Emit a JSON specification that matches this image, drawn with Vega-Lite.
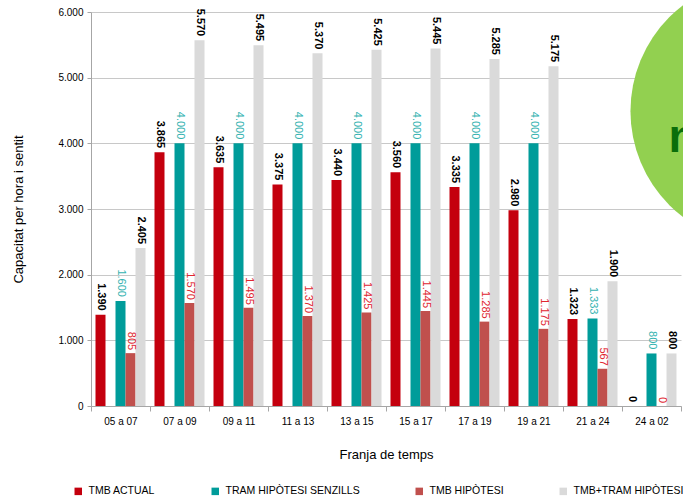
{
  "$schema": "https://vega.github.io/schema/vega-lite/v6.json",
  "autosize": {"type": "none"},
  "width": 590,
  "height": 394,
  "padding": {"left": 91, "top": 12, "right": 2, "bottom": 92},
  "config": {
    "locale": {"number": {"decimal": ",", "thousands": ".", "grouping": [3], "currency": ["", " €"]}},
    "view": {"stroke": null},
    "font": "Liberation Sans"
  },
  "datasets": {
    "bars": [
      {"t": "05 a 07", "s": "TMB ACTUAL", "v": 1390},
      {"t": "05 a 07", "s": "TRAM HIPÒTESI SENZILLS", "v": 1600},
      {"t": "05 a 07", "s": "TMB HIPÒTESI", "v": 805},
      {"t": "05 a 07", "s": "TMB+TRAM HIPÒTESI", "v": 2405},
      {"t": "07 a 09", "s": "TMB ACTUAL", "v": 3865},
      {"t": "07 a 09", "s": "TRAM HIPÒTESI SENZILLS", "v": 4000},
      {"t": "07 a 09", "s": "TMB HIPÒTESI", "v": 1570},
      {"t": "07 a 09", "s": "TMB+TRAM HIPÒTESI", "v": 5570},
      {"t": "09 a 11", "s": "TMB ACTUAL", "v": 3635},
      {"t": "09 a 11", "s": "TRAM HIPÒTESI SENZILLS", "v": 4000},
      {"t": "09 a 11", "s": "TMB HIPÒTESI", "v": 1495},
      {"t": "09 a 11", "s": "TMB+TRAM HIPÒTESI", "v": 5495},
      {"t": "11 a 13", "s": "TMB ACTUAL", "v": 3375},
      {"t": "11 a 13", "s": "TRAM HIPÒTESI SENZILLS", "v": 4000},
      {"t": "11 a 13", "s": "TMB HIPÒTESI", "v": 1370},
      {"t": "11 a 13", "s": "TMB+TRAM HIPÒTESI", "v": 5370},
      {"t": "13 a 15", "s": "TMB ACTUAL", "v": 3440},
      {"t": "13 a 15", "s": "TRAM HIPÒTESI SENZILLS", "v": 4000},
      {"t": "13 a 15", "s": "TMB HIPÒTESI", "v": 1425},
      {"t": "13 a 15", "s": "TMB+TRAM HIPÒTESI", "v": 5425},
      {"t": "15 a 17", "s": "TMB ACTUAL", "v": 3560},
      {"t": "15 a 17", "s": "TRAM HIPÒTESI SENZILLS", "v": 4000},
      {"t": "15 a 17", "s": "TMB HIPÒTESI", "v": 1445},
      {"t": "15 a 17", "s": "TMB+TRAM HIPÒTESI", "v": 5445},
      {"t": "17 a 19", "s": "TMB ACTUAL", "v": 3335},
      {"t": "17 a 19", "s": "TRAM HIPÒTESI SENZILLS", "v": 4000},
      {"t": "17 a 19", "s": "TMB HIPÒTESI", "v": 1285},
      {"t": "17 a 19", "s": "TMB+TRAM HIPÒTESI", "v": 5285},
      {"t": "19 a 21", "s": "TMB ACTUAL", "v": 2980},
      {"t": "19 a 21", "s": "TRAM HIPÒTESI SENZILLS", "v": 4000},
      {"t": "19 a 21", "s": "TMB HIPÒTESI", "v": 1175},
      {"t": "19 a 21", "s": "TMB+TRAM HIPÒTESI", "v": 5175},
      {"t": "21 a 24", "s": "TMB ACTUAL", "v": 1323},
      {"t": "21 a 24", "s": "TRAM HIPÒTESI SENZILLS", "v": 1333},
      {"t": "21 a 24", "s": "TMB HIPÒTESI", "v": 567},
      {"t": "21 a 24", "s": "TMB+TRAM HIPÒTESI", "v": 1900},
      {"t": "24 a 02", "s": "TMB ACTUAL", "v": 0},
      {"t": "24 a 02", "s": "TRAM HIPÒTESI SENZILLS", "v": 800},
      {"t": "24 a 02", "s": "TMB HIPÒTESI", "v": 0},
      {"t": "24 a 02", "s": "TMB+TRAM HIPÒTESI", "v": 800}
    ],
    "badge": [{"t": "24 a 02", "v": 4490, "label": "n", "lv": 3868}]
  },
  "data": {"name": "bars"},
  "layer": [
    {
      "mark": {"type": "bar"},
      "encoding": {
        "x": {
          "field": "t", "type": "nominal", "sort": null,
          "scale": {"paddingInner": 0, "paddingOuter": 0},
          "axis": {
            "title": "Franja de temps", "labelAngle": 0, "tickBand": "extent", "tickSize": 5,
            "tickColor": "#a6a6a6", "domainColor": "#a6a6a6", "labelFontSize": 10, "labelColor": "#000000",
            "labelPadding": 5, "titleFontSize": 13, "titleFontWeight": "normal", "titleColor": "#000000",
            "titlePadding": 22, "grid": false
          }
        },
        "xOffset": {
          "field": "s", "type": "nominal",
          "scale": {"domain": ["TMB ACTUAL", "_gap", "TRAM HIPÒTESI SENZILLS", "TMB HIPÒTESI", "TMB+TRAM HIPÒTESI"], "paddingInner": 0, "paddingOuter": 0.45}
        },
        "y": {
          "field": "v", "type": "quantitative",
          "scale": {"domain": [0, 6000], "nice": false},
          "axis": {
            "title": "Capacitat per hora i sentit", "values": [0, 1000, 2000, 3000, 4000, 5000, 6000],
            "format": ",d", "tickSize": 4, "tickColor": "#a6a6a6", "domainColor": "#a6a6a6",
            "gridColor": "#c8c8c8", "labelFontSize": 10, "labelColor": "#000000", "labelPadding": 4,
            "titleFontSize": 13, "titleFontWeight": "normal", "titleColor": "#000000", "titlePadding": 32
          }
        },
        "color": {
          "field": "s", "type": "nominal",
          "scale": {"domain": ["TMB ACTUAL", "TRAM HIPÒTESI SENZILLS", "TMB HIPÒTESI", "TMB+TRAM HIPÒTESI"],
                    "range": ["#c4000e", "#009c9a", "#c0504d", "#dadada"]},
          "legend": {
            "title": null, "orient": "none", "direction": "horizontal", "columns": 4,
            "legendX": -18, "legendY": 474, "symbolType": "square", "symbolSize": 56,
            "symbolStrokeWidth": 0, "labelFontSize": 10.5, "labelColor": "#000000",
            "columnPadding": 54, "labelOffset": 5
          }
        }
      }
    },
    {
      "transform": [{"filter": "datum.s === 'TMB ACTUAL' || datum.s === 'TMB+TRAM HIPÒTESI'"}],
      "mark": {"type": "text", "angle": 90, "align": "right", "baseline": "middle", "dx": -4, "fontSize": 11, "fontWeight": "bold", "color": "#000000"},
      "encoding": {
        "x": {"field": "t", "type": "nominal", "sort": null},
        "xOffset": {"field": "s", "type": "nominal"},
        "y": {"field": "v", "type": "quantitative"},
        "text": {"field": "v", "type": "quantitative", "format": ",d"}
      }
    },
    {
      "transform": [{"filter": "datum.s === 'TRAM HIPÒTESI SENZILLS'"}],
      "mark": {"type": "text", "angle": 90, "align": "right", "baseline": "middle", "dx": -4, "fontSize": 11, "color": "#35b3b1"},
      "encoding": {
        "x": {"field": "t", "type": "nominal", "sort": null},
        "xOffset": {"field": "s", "type": "nominal"},
        "y": {"field": "v", "type": "quantitative"},
        "text": {"field": "v", "type": "quantitative", "format": ",d"}
      }
    },
    {
      "transform": [{"filter": "datum.s === 'TMB HIPÒTESI'"}],
      "mark": {"type": "text", "angle": 90, "align": "right", "baseline": "middle", "dx": -3, "fontSize": 11, "color": "#e0262f"},
      "encoding": {
        "x": {"field": "t", "type": "nominal", "sort": null},
        "xOffset": {"field": "s", "type": "nominal"},
        "y": {"field": "v", "type": "quantitative"},
        "text": {"field": "v", "type": "quantitative", "format": ",d"}
      }
    },
    {
      "data": {"name": "badge"},
      "mark": {"type": "point", "shape": "circle", "filled": true, "size": 70800, "color": "#92d050", "opacity": 1, "xOffset": 112},
      "encoding": {
        "x": {"field": "t", "type": "nominal", "sort": null},
        "y": {"field": "v", "type": "quantitative"}
      }
    },
    {
      "data": {"name": "badge"},
      "mark": {"type": "text", "align": "left", "baseline": "alphabetic", "fontSize": 46, "fontWeight": "bold", "color": "#0a6e0a", "xOffset": 17},
      "encoding": {
        "x": {"field": "t", "type": "nominal", "sort": null},
        "y": {"field": "lv", "type": "quantitative"},
        "text": {"field": "label"}
      }
    }
  ]
}
